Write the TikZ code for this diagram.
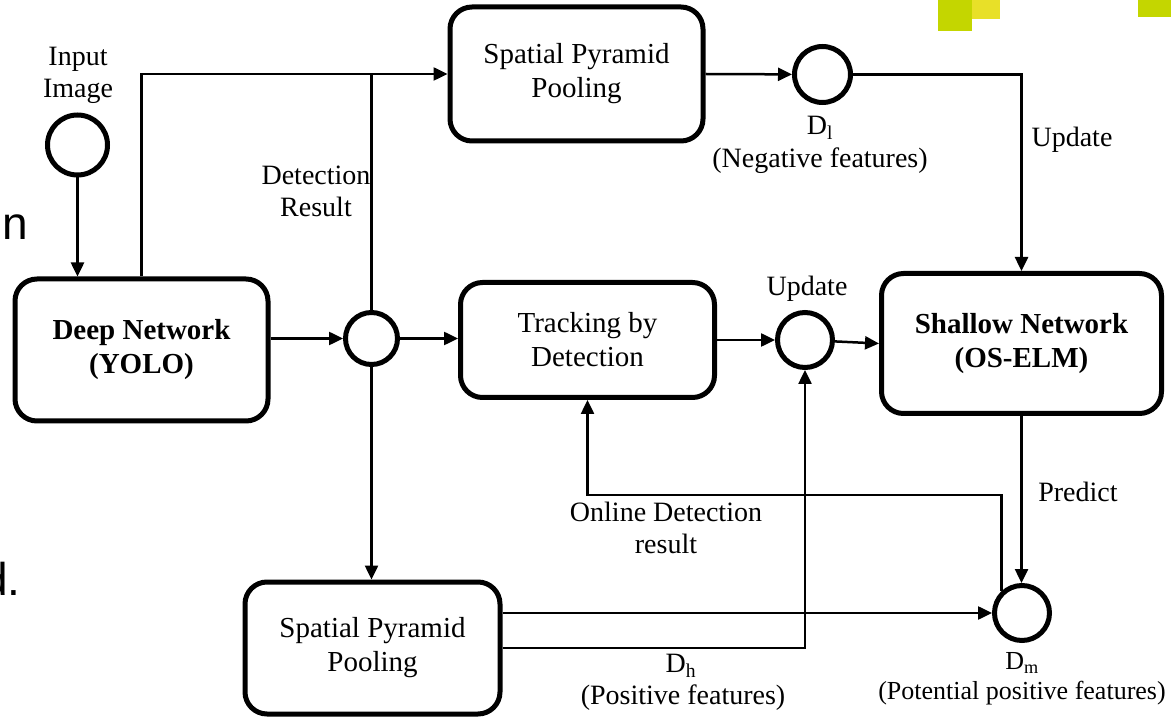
\documentclass[tikz,border=0pt]{standalone}
\usepackage{fontspec}
\setmainfont{Liberation Serif}
\newfontfamily\artsans{Liberation Sans}
\usetikzlibrary{arrows.meta}
\definecolor{limegreen}{RGB}{196,214,0}
\definecolor{lemonyellow}{RGB}{232,224,40}
\begin{document}
\begin{tikzpicture}[x=1pt,y=-1pt,
  box/.style={draw, line width=5pt, rounded corners=22pt, align=center, inner sep=0pt, font=\fontsize{29}{34}\selectfont},
  junc/.style={draw, circle, line width=5pt, inner sep=0pt},
  arr/.style={line width=2.5pt, -{Triangle[length=14pt,width=13pt]}},
  ln/.style={line width=2.5pt},
  lbl/.style={align=center, inner sep=0pt, font=\fontsize{28}{32}\selectfont},
  frag/.style={anchor=base west, inner sep=0pt, font=\artsans\fontsize{46}{50}\selectfont}]
\useasboundingbox (0,0) rectangle (1171,719);
% slide fragments
\fill[limegreen] (938,0) rectangle (972,31);
\fill[lemonyellow] (972,0) rectangle (1000,19);
\fill[limegreen] (1138,0) rectangle (1171,17);
\node[frag] (frag1) at (2,240) {n};
\node[frag] (frag2) at (-18,595) {d.};
% boxes
\node[box, minimum width=253pt, minimum height=142pt] (deep) at (141.5,350) {\textbf{Deep Network}\\\textbf{(YOLO)}};
\node[box, minimum width=253pt, minimum height=134pt] (spp1) at (576.5,74) {Spatial Pyramid\\Pooling};
\node[box, minimum width=254pt, minimum height=115pt] (track) at (587.5,340) {Tracking by\\Detection};
\node[box, minimum width=280pt, minimum height=140pt] (shal) at (1021.5,343.5) {\textbf{Shallow Network}\\\textbf{(OS-ELM)}};
\node[box, minimum width=255pt, minimum height=132pt] (spp2) at (372.5,648) {Spatial Pyramid\\Pooling};
% junctions
\node[junc, minimum size=60pt] (inp) at (77.5,145) {};
\node[junc, minimum size=52pt] (c1) at (371.5,338.5) {};
\node[junc, minimum size=56pt] (dl) at (822.5,74.5) {};
\node[junc, minimum size=55pt] (uc) at (805,340) {};
\node[junc, minimum size=55pt] (dm) at (1022,613) {};
% labels
\node[lbl] (tin) at (78,75) {Input\\Image};
\node[lbl] (tdet) at (316,191) {Detection\\Result};
\node[lbl] (tup1) at (1072,140) {Update};
\node[lbl] (tdl) at (820,128) {D\textsubscript{l}};
\node[lbl] (tneg) at (820,161) {(Negative features)};
\node[lbl] (tup2) at (807,289) {Update};
\node[lbl] (tpred) at (1078,492) {Predict};
\node[lbl] (tonl) at (666,528) {Online Detection\\result};
\node[lbl] (tdh) at (681,666) {D\textsubscript{h}};
\node[lbl] (tpos) at (683,698) {(Positive features)};
\node[lbl, font=\fontsize{26}{30}\selectfont] (tdm) at (1022,663) {D\textsubscript{m}};
\node[lbl, font=\fontsize{26}{30}\selectfont] (tpot) at (1022,693) {(Potential positive features)};
% connectors
\draw[arr] (inp) -- (inp |- deep.north);
\draw[arr] (deep.north) |- (spp1.west);
\draw[ln] (c1.north) -- (c1.north |- spp1.west);
\draw[arr] (c1.south) -- (c1.south |- spp2.north);
\draw[arr] (deep.east |- c1) -- (c1);
\draw[arr] (c1) -- (track.west |- c1);
\draw[arr] (track.east) -- (uc);
\draw[arr] (uc) -- (shal.west);
\draw[arr] (spp1.east) -- (dl);
\draw[arr] (dl) -| (shal.north);
\draw[arr] (shal.south) -- (shal.south |- dm.north);
\draw[arr] (spp2.east |- dm) -- (dm);
\draw[arr] (spp2.east) -| (uc);
\coordinate (fb) at (587.5,495);
\draw[arr] (dm.133) |- (fb) -- (track.south);
\end{tikzpicture}
\end{document}
